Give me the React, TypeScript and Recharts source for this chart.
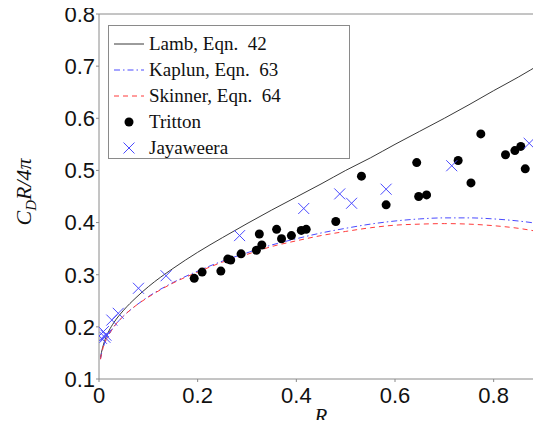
import {
  ComposedChart,
  Line,
  Scatter,
  XAxis,
  YAxis,
  ReferenceLine,
  Legend,
  Label,
} from "recharts";

// model curves, sampled along R
const curveR = [0.003, 0.005, 0.01, 0.02, 0.03, 0.05, 0.075, 0.1, 0.15, 0.2, 0.25, 0.3, 0.35, 0.4, 0.45, 0.5, 0.55, 0.6, 0.65, 0.7, 0.75, 0.8, 0.85, 0.9];
const lamb = [0.141, 0.151, 0.169, 0.192, 0.208, 0.232, 0.256, 0.277, 0.312, 0.343, 0.371, 0.398, 0.424, 0.449, 0.474, 0.5, 0.524, 0.55, 0.575, 0.6, 0.626, 0.653, 0.679, 0.707];
const kaplun = [0.138, 0.148, 0.165, 0.185, 0.2, 0.221, 0.241, 0.258, 0.285, 0.307, 0.326, 0.342, 0.357, 0.369, 0.38, 0.389, 0.397, 0.403, 0.407, 0.409, 0.409, 0.407, 0.403, 0.397];
const skinner = [0.138, 0.148, 0.165, 0.185, 0.2, 0.221, 0.241, 0.257, 0.284, 0.305, 0.324, 0.339, 0.354, 0.365, 0.375, 0.383, 0.39, 0.395, 0.397, 0.398, 0.397, 0.394, 0.389, 0.381];

// experiments
const trittonR = [0.193, 0.209, 0.247, 0.261, 0.267, 0.288, 0.319, 0.325, 0.33, 0.36, 0.37, 0.39, 0.41, 0.42, 0.48, 0.532, 0.582, 0.644, 0.648, 0.664, 0.728, 0.754, 0.774, 0.824, 0.843, 0.855, 0.864];
const trittonC = [0.293, 0.305, 0.307, 0.33, 0.328, 0.34, 0.347, 0.378, 0.357, 0.387, 0.369, 0.375, 0.385, 0.387, 0.402, 0.489, 0.434, 0.515, 0.45, 0.453, 0.519, 0.476, 0.57, 0.53, 0.538, 0.546, 0.503];
const jayR = [0.005, 0.009, 0.012, 0.014, 0.026, 0.039, 0.08, 0.136, 0.285, 0.415, 0.488, 0.512, 0.582, 0.715, 0.872];
const jayC = [0.178, 0.191, 0.18, 0.184, 0.213, 0.226, 0.274, 0.298, 0.375, 0.427, 0.455, 0.437, 0.464, 0.509, 0.552];

const xTicks = [0, 0.2, 0.4, 0.6, 0.8];
const yTicks = [0.1, 0.2, 0.3, 0.4, 0.5, 0.6, 0.7, 0.8];

const toPts = (xs: number[], ys: number[]) => xs.map((x, i) => ({ x, y: ys[i] }));

const lambData = toPts(curveR, lamb);
const kaplunData = toPts(curveR, kaplun);
const skinnerData = toPts(curveR, skinner);
const trittonData = toPts(trittonR, trittonC);
const jayData = toPts(jayR, jayC);

const AXIS = "#8a8a8a";
const BLUE = "#4a4aff";
const RED = "#ff3b3b";
const SERIF = "'Liberation Serif', serif";

const Cross = (props: any) => {
  const { cx, cy } = props;
  const s = 5.5;
  return (
    <g stroke={BLUE} strokeWidth={1}>
      <line x1={cx - s} y1={cy - s} x2={cx + s} y2={cy + s} />
      <line x1={cx - s} y1={cy + s} x2={cx + s} y2={cy - s} />
    </g>
  );
};

const Dot = (props: any) => <circle cx={props.cx} cy={props.cy} r={4.5} fill="#000" />;

const legendRows = [
  { name: "Lamb, Eqn.  42", kind: "solid" },
  { name: "Kaplun, Eqn.  63", kind: "dashdot" },
  { name: "Skinner, Eqn.  64", kind: "dash" },
  { name: "Tritton", kind: "dot" },
  { name: "Jayaweera", kind: "cross" },
];

const LegendBox = () => (
  <div
    style={{
      width: 242,
      height: 134,
      border: "1px solid #8a8a8a",
      background: "#fff",
      fontFamily: SERIF,
      fontSize: 19,
      color: "#111",
      paddingTop: 5,
      boxSizing: "border-box",
    }}
  >
    {legendRows.map((r) => (
      <div key={r.name} style={{ display: "flex", alignItems: "center", height: 26 }}>
        <svg width={40} height={26} style={{ flex: "none" }}>
          {r.kind === "solid" && <line x1={5} x2={35} y1={13} y2={13} stroke="#222" strokeWidth={0.9} />}
          {r.kind === "dashdot" && (
            <line x1={5} x2={35} y1={13} y2={13} stroke={BLUE} strokeWidth={1} strokeDasharray="6 3 1.5 3" />
          )}
          {r.kind === "dash" && (
            <line x1={5} x2={35} y1={13} y2={13} stroke={RED} strokeWidth={1} strokeDasharray="5 4" />
          )}
          {r.kind === "dot" && <circle cx={20} cy={13} r={4.5} fill="#000" />}
          {r.kind === "cross" && <Cross cx={20} cy={13} />}
        </svg>
        <span style={{ whiteSpace: "pre" }}>{r.name}</span>
      </div>
    ))}
  </div>
);

const YTitle = () => (
  <text
    transform="translate(31,192) rotate(-90)"
    textAnchor="middle"
    fontFamily={SERIF}
    fontStyle="italic"
    fontSize={22}
    fill="#111"
  >
    C<tspan fontSize={15} dy={5}>D</tspan>
    <tspan dy={-5}>R/4π</tspan>
  </text>
);

const XTitle = (props: any) => {
  const vb = props.viewBox || {};
  return (
    <text
      x={vb.x + vb.width / 2}
      y={vb.y + vb.height - 5}
      textAnchor="middle"
      fontFamily={SERIF}
      fontStyle="italic"
      fontSize={21}
      fill="#111"
    >
      R
    </text>
  );
};

export default function App() {
  return (
    <div
      style={{
        margin: -8,
        width: 541,
        height: 428,
        overflow: "hidden",
        position: "relative",
        background: "#fff",
        fontFamily: "'Liberation Sans', Arial, sans-serif",
      }}
    >
      <ComposedChart width={560} height={428} margin={{ top: 14, right: 17, left: 0, bottom: 0 }}>
        <XAxis
          type="number"
          dataKey="x"
          domain={[0, 0.9]}
          ticks={xTicks}
          allowDataOverflow
          tickFormatter={(v: number) => (v === 0 ? "0" : String(v))}
          height={49}
          stroke={AXIS}
          tickSize={3}
          tickMargin={5}
          tick={{ fill: "#111", fontSize: 22 }}
        >
          <Label content={<XTitle />} />
        </XAxis>
        <YAxis
          type="number"
          dataKey="y"
          domain={[0.1, 0.8]}
          ticks={yTicks}
          allowDataOverflow
          width={99}
          stroke={AXIS}
          tickSize={3}
          tickMargin={1}
          tickFormatter={(v: number) => v.toFixed(1)}
          tick={{ fill: "#111", fontSize: 22 }}
        >
          <Label content={<YTitle />} />
        </YAxis>
        <ReferenceLine y={0.8} stroke={AXIS} />
        <ReferenceLine x={0.9} stroke={AXIS} />
        <Line
          data={lambData}
          dataKey="y"
          type="monotone"
          stroke="#222"
          strokeWidth={0.9}
          dot={false}
          isAnimationActive={false}
        />
        <Line
          data={kaplunData}
          dataKey="y"
          type="monotone"
          stroke={BLUE}
          strokeWidth={1}
          strokeDasharray="6 3 1.5 3"
          dot={false}
          isAnimationActive={false}
        />
        <Line
          data={skinnerData}
          dataKey="y"
          type="monotone"
          stroke={RED}
          strokeWidth={1}
          strokeDasharray="5 4"
          dot={false}
          isAnimationActive={false}
        />
        <Scatter data={trittonData} dataKey="y" shape={Dot} isAnimationActive={false} />
        <Scatter data={jayData} dataKey="y" shape={Cross} isAnimationActive={false} />
        <Legend
          layout="horizontal"
          verticalAlign="middle"
          align="center"
          content={() => <LegendBox />}
          wrapperStyle={{ left: 108, top: 25, width: 242, height: 134 }}
        />
      </ComposedChart>
    </div>
  );
}
